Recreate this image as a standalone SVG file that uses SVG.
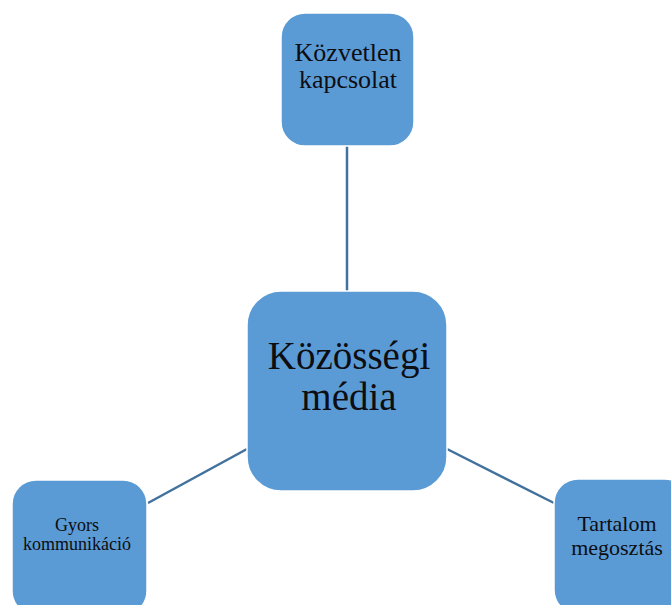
<svg xmlns="http://www.w3.org/2000/svg" width="671" height="605" viewBox="0 0 671 605">
  <style>
    .box { fill: #5B9BD5; stroke: #ffffff; stroke-width: 1.5; }
    .link { stroke: #41719C; stroke-width: 2.5; fill: none; }
    .label { font-family: "Liberation Serif", "Times New Roman", serif; fill: #0d0d12; text-anchor: middle; }
  </style>
  <rect width="671" height="605" fill="#ffffff"/>
  <g id="connectors">
    <line class="link" x1="347" y1="146" x2="347" y2="291"/>
    <line class="link" x1="148" y1="503" x2="247" y2="449"/>
    <line class="link" x1="447" y1="449" x2="554" y2="503"/>
  </g>
  <g id="node-center">
    <rect class="box" x="247" y="291" width="200" height="200" rx="34"/>
    <text class="label" x="349" y="369" font-size="39">Közösségi</text>
    <text class="label" x="349" y="410" font-size="39">média</text>
  </g>
  <g id="node-top">
    <rect class="box" x="281" y="13" width="133" height="133" rx="24"/>
    <text class="label" x="348" y="61" font-size="26">Közvetlen</text>
    <text class="label" x="348" y="88" font-size="26">kapcsolat</text>
  </g>
  <g id="node-left">
    <rect class="box" x="12" y="480" width="135" height="135" rx="24"/>
    <text class="label" x="77" y="531" font-size="18">Gyors</text>
    <text class="label" x="77" y="550" font-size="18">kommunikáció</text>
  </g>
  <g id="node-right">
    <rect class="box" x="554" y="479" width="135" height="135" rx="24"/>
    <text class="label" x="617" y="531" font-size="22">Tartalom</text>
    <text class="label" x="617" y="555" font-size="22">megosztás</text>
  </g>
</svg>
